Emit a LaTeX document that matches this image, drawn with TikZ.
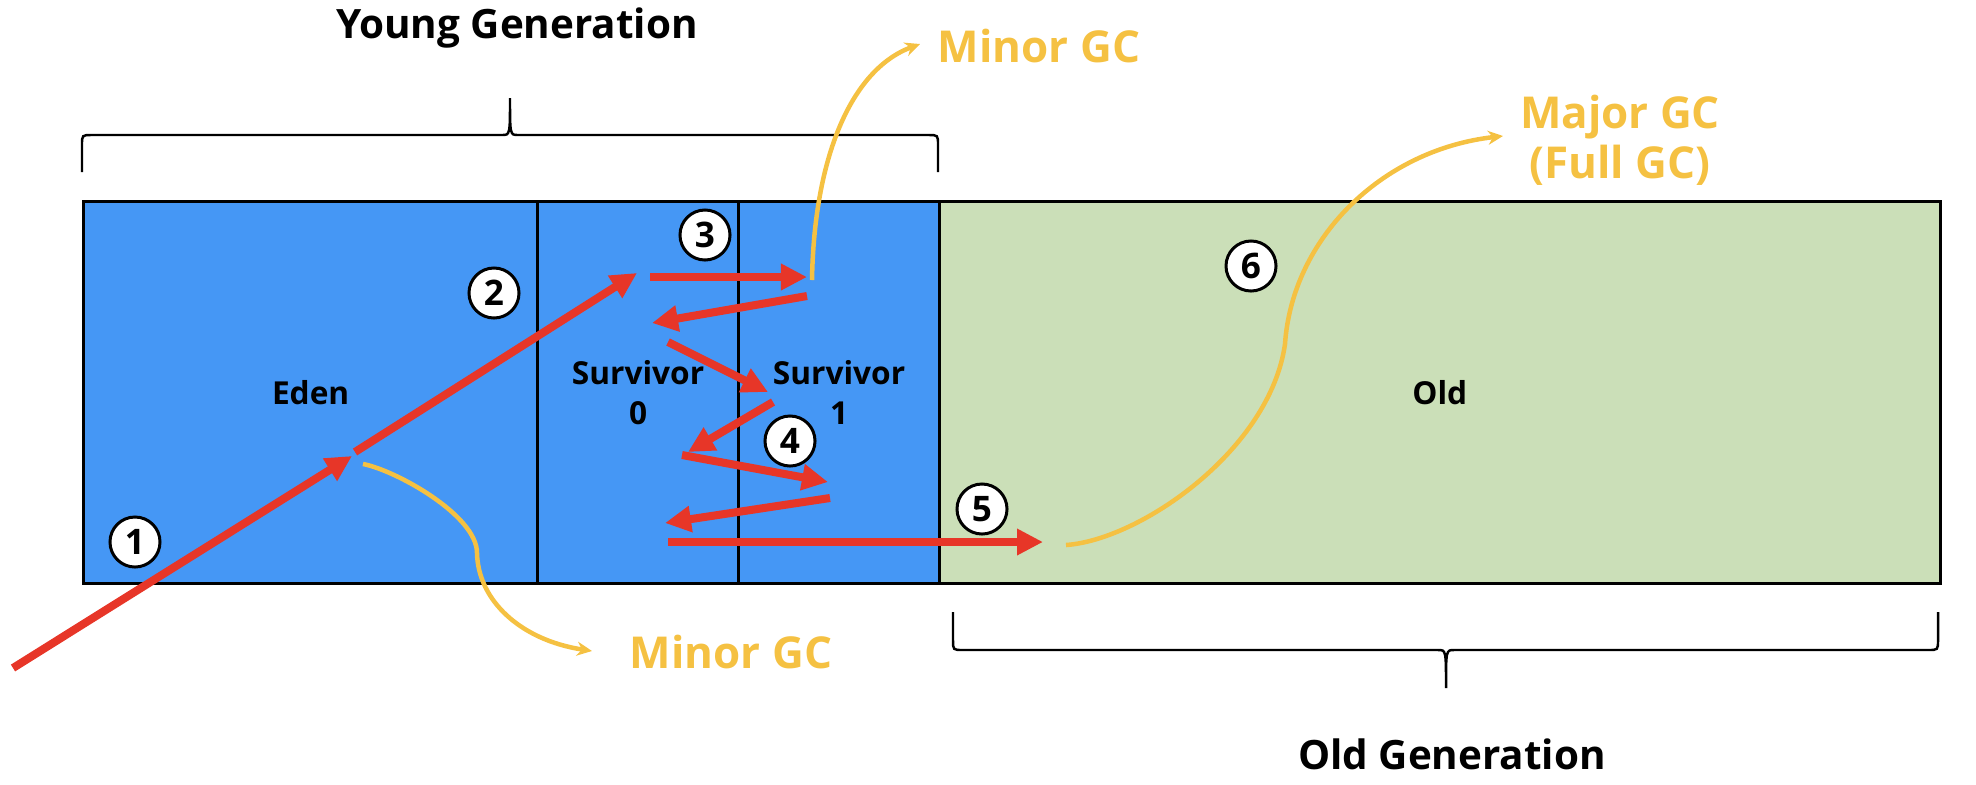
\documentclass[tikz,border=0pt]{standalone}
\usepackage{fontspec}
\setmainfont{Open Sans}
\usetikzlibrary{arrows.meta}

\definecolor{heapblue}{RGB}{69,151,245}
\definecolor{oldgreen}{RGB}{203,223,184}
\definecolor{movered}{RGB}{231,54,40}
\definecolor{gcyellow}{RGB}{245,193,66}

\begin{document}
\begin{tikzpicture}[x=0.01cm,y=-0.01cm,
  area/.style={draw=black,line width=0.85pt,minimum height=3.82cm,inner sep=0pt,anchor=north west,
    font=\fontsize{9}{11.5}\selectfont\bfseries,align=center},
  num/.style={circle,draw=black,fill=white,line width=0.85pt,minimum size=0.5cm,inner sep=0pt,
    font=\fontsize{10}{10}\selectfont\bfseries},
  move/.style={draw=movered,line width=0.08cm,-{Triangle[length=0.26cm,width=0.25cm]}},
  gc/.style={draw=gcyellow,line width=0.045cm,-{Stealth[length=0.15cm,width=0.14cm]}},
  gclabel/.style={text=gcyellow,font=\fontsize{12.5}{14.2}\selectfont\bfseries,align=center},
  genlabel/.style={font=\fontsize{11.5}{13}\selectfont\bfseries},
  brace/.style={draw=black,line width=0.7pt}]
\useasboundingbox (0,0) rectangle (1976,784);

% heap areas
\node[area,fill=heapblue,minimum width=4.54cm] (eden) at (82,200) {Eden};
\node[area,fill=heapblue,minimum width=2.01cm] (surv0) at (536,200) {Survivor\\0};
\node[area,fill=heapblue,minimum width=2.01cm] (surv1) at (737,200) {Survivor\\1};
\node[area,fill=oldgreen,minimum width=10cm] (old) at (938,200) {Old};

% braces and generation labels
\draw[brace] (82,172) -- (82,145) .. controls (82,135) .. (92,135) -- (502,135)
  .. controls (510,135) .. (510,98) .. controls (510,135) .. (518,135) -- (928,135)
  .. controls (938,135) .. (938,145) -- (938,172);
\draw[brace] (953,612) -- (953,640) .. controls (953,650) .. (963,650) -- (1438,650)
  .. controls (1446,650) .. (1446,688) .. controls (1446,650) .. (1454,650) -- (1928,650)
  .. controls (1938,650) .. (1938,640) -- (1938,612);
\node[genlabel] (younggen) at (517,28) {Young Generation};
\node[genlabel] (oldgen) at (1452,754) {Old Generation};

% step numbers
\node[num] (c1) at (135,542) {1};
\node[num] (c2) at (494,293) {2};
\node[num] (c3) at (705,235) {3};
\node[num] (c4) at (790,441) {4};
\node[num] (c5) at (982,509) {5};
\node[num] (c6) at (1251,266) {6};

% object moves
\coordinate (m0) at (13,668);
\coordinate (m1) at (352,456);
\coordinate (m2) at (355,452);
\coordinate (m3) at (637,273);
\coordinate (m4) at (650,277);
\coordinate (m5) at (807,277);
\coordinate (m6) at (807,296);
\coordinate (m7) at (652,323);
\coordinate (m8) at (668,342);
\coordinate (m9) at (768,392);
\coordinate (m10) at (773,402);
\coordinate (m11) at (688,452);
\coordinate (m12) at (682,455);
\coordinate (m13) at (828,482);
\coordinate (m14) at (830,498);
\coordinate (m15) at (665,523);
\coordinate (m16) at (668,542);
\coordinate (m17) at (1043,542);
\foreach \a/\b in {m0/m1,m2/m3,m4/m5,m6/m7,m8/m9,m10/m11,m12/m13,m14/m15,m16/m17}
  \draw[move] (\a) -- (\b);

% gc events
\node[gclabel] (minorbot) at (731,652) {Minor GC};
\node[gclabel] (minortop) at (1039,46) {Minor GC};
\node[gclabel] (major) at (1620,140) {Major GC\\(Full GC)};
\coordinate (g1) at (363,464);
\coordinate (g1e) at (592,651);
\coordinate (g2) at (812,280);
\coordinate (g2e) at (920,44);
\coordinate (g3) at (1066,545);
\coordinate (g3e) at (1503,136);
\draw[gc] (g1) .. controls (395,470) and (477,515) .. (477,553)
  .. controls (478,600) and (520,640) .. (g1e);
\draw[gc] (g2) .. controls (814,160) and (850,70) .. (g2e);
\draw[gc] (g3) .. controls (1140,540) and (1270,450) .. (1285,344)
  .. controls (1292,240) and (1380,150) .. (g3e);
\end{tikzpicture}
\end{document}
